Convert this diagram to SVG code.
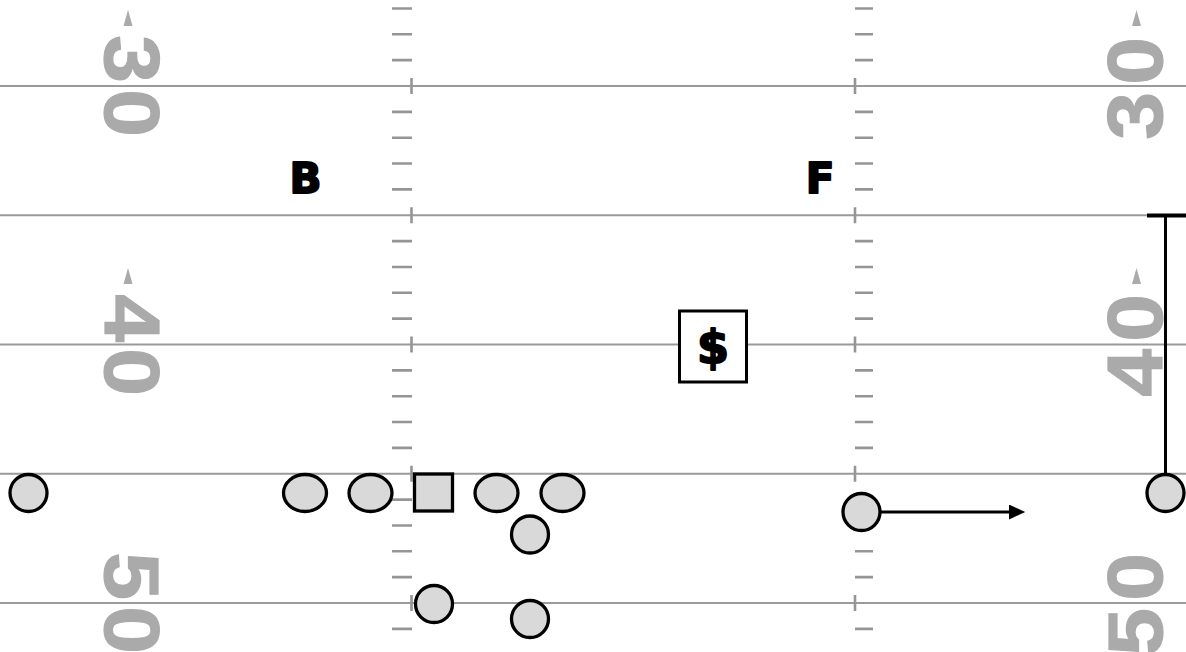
<svg xmlns="http://www.w3.org/2000/svg" width="1186" height="652" viewBox="0 0 1186 652">
<defs>
<style>
.yl{stroke:#9a9a9a;stroke-width:2.2;fill:none}
.hm{stroke:#959595;stroke-width:2.6;fill:none}
.num{font-family:"Liberation Sans",Arial,sans-serif;font-weight:bold;font-size:78px;fill:#aaaaaa;stroke:#aaaaaa;stroke-width:1.2}
.tri{fill:#aaaaaa}
.pl{fill:#d9d9d9;stroke:#000;stroke-width:3.3}
.lbl{font-family:"DejaVu Sans",sans-serif;font-weight:bold;fill:#000;stroke:#000;stroke-width:2;stroke-linejoin:round}
.conn{stroke:#000;stroke-width:3;fill:none}
</style>
<marker id="ah" markerWidth="6" markerHeight="5" refX="0" refY="2.5" orient="auto" markerUnits="strokeWidth">
<path d="M0,0 L5.4,2.5 L0,5 Z" fill="#000"/>
</marker>
</defs>
<rect width="1186" height="652" fill="#fff"/>
<g id="field">
<path class="yl" d="M0 86H1186M0 215.25H1186M0 344.5H1186M0 473.75H1186M0 603H1186"/>
<path class="hm" d="M392 8.45h20M392 34.3h20M392 60.15h20M392 111.85h20M392 137.7h20M392 163.55h20M392 189.4h20M392 241.1h20M392 266.95h20M392 292.8h20M392 318.65h20M392 370.35h20M392 396.2h20M392 422.05h20M392 447.9h20M392 499.6h20M392 525.45h20M392 551.3h20M392 577.15h20M392 628.85h20"/>
<path class="hm" d="M855 8.45h18M855 34.3h18M855 60.15h18M855 111.85h18M855 137.7h18M855 163.55h18M855 189.4h18M855 241.1h18M855 266.95h18M855 292.8h18M855 318.65h18M855 370.35h18M855 396.2h18M855 422.05h18M855 447.9h18M855 499.6h18M855 525.45h18M855 551.3h18M855 577.15h18M855 628.85h18"/>
<path class="hm" d="M411.5 78v16M411.5 207.25v16M411.5 336.5v16M411.5 465.75v16M411.5 595v16M855 78v16M855 207.25v16M855 336.5v16M855 465.75v16M855 595v16"/>
<g id="numbers">
<text class="num" text-anchor="middle" transform="translate(105,59) rotate(90) scale(1.1,1)">3</text>
<text class="num" text-anchor="middle" transform="translate(105,113) rotate(90) scale(1.1,1)">0</text>
<text class="num" text-anchor="middle" transform="translate(105,318) rotate(90) scale(1.1,1)">4</text>
<text class="num" text-anchor="middle" transform="translate(105,372) rotate(90) scale(1.1,1)">0</text>
<text class="num" text-anchor="middle" transform="translate(105,576) rotate(90) scale(1.1,1)">5</text>
<text class="num" text-anchor="middle" transform="translate(105,630) rotate(90) scale(1.1,1)">0</text>
<text class="num" text-anchor="middle" transform="translate(1162,61) rotate(-90) scale(1.1,1)">0</text>
<text class="num" text-anchor="middle" transform="translate(1162,116) rotate(-90) scale(1.1,1)">3</text>
<text class="num" text-anchor="middle" transform="translate(1162,318) rotate(-90) scale(1.1,1)">0</text>
<text class="num" text-anchor="middle" transform="translate(1162,373) rotate(-90) scale(1.1,1)">4</text>
<text class="num" text-anchor="middle" transform="translate(1162,577) rotate(-90) scale(1.1,1)">0</text>
<text class="num" text-anchor="middle" transform="translate(1162,632) rotate(-90) scale(1.1,1)">5</text>
<polygon class="tri" points="128,10 123.5,26 132.5,26"/>
<polygon class="tri" points="128,268 123.5,284 132.5,284"/>
<polygon class="tri" points="1136.5,10 1132,26 1141,26"/>
<polygon class="tri" points="1136.5,268 1132,284 1141,284"/>
</g>
</g>
<g id="connectors">
<line class="conn" x1="881" y1="512" x2="1009" y2="512" marker-end="url(#ah)"/>
<line class="conn" x1="1165.5" y1="215.5" x2="1165.5" y2="475"/>
<line x1="1147" y1="215.5" x2="1186" y2="215.5" stroke="#000" stroke-width="4"/>
</g>
<g id="label-B"><text class="lbl" x="305.5" y="193" font-size="42" text-anchor="middle">B</text></g>
<g id="label-F"><text class="lbl" x="820" y="193" font-size="42" text-anchor="middle">F</text></g>
<g id="dollar">
<rect x="679.5" y="311" width="67" height="71" fill="#fff" stroke="#000" stroke-width="3"/>
<text class="lbl" x="713" y="363" font-size="46" text-anchor="middle">$</text>
</g>
<g id="p1"><ellipse class="pl" cx="28.5" cy="493" rx="18.5" ry="18.5"/></g>
<g id="p2"><ellipse class="pl" cx="305" cy="493" rx="21.5" ry="18.5"/></g>
<g id="p3"><ellipse class="pl" cx="370.5" cy="493" rx="21.5" ry="18.5"/></g>
<g id="center"><rect class="pl" x="414.5" y="474" width="38" height="37"/></g>
<g id="p4"><ellipse class="pl" cx="496.5" cy="493" rx="21.5" ry="18.5"/></g>
<g id="p5"><ellipse class="pl" cx="562.5" cy="493" rx="21.5" ry="18.5"/></g>
<g id="p6"><ellipse class="pl" cx="530" cy="534.5" rx="18.5" ry="18.5"/></g>
<g id="p7"><ellipse class="pl" cx="434" cy="604" rx="18.5" ry="18.5"/></g>
<g id="p8"><ellipse class="pl" cx="530" cy="619" rx="18.5" ry="18.5"/></g>
<g id="p9"><ellipse class="pl" cx="861.5" cy="512" rx="18.5" ry="18.5"/></g>
<g id="p10"><ellipse class="pl" cx="1165.5" cy="493" rx="18.5" ry="18.5"/></g>
</svg>
